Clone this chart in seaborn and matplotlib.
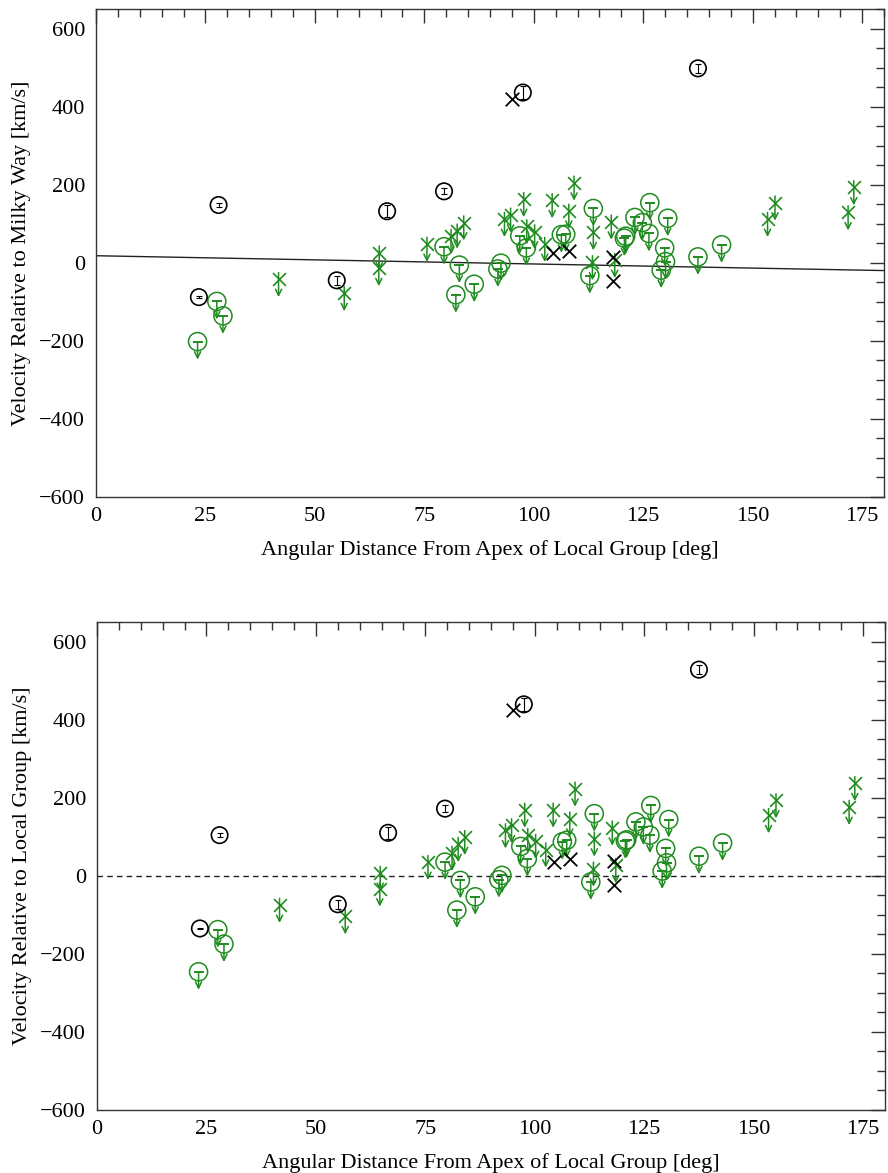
import matplotlib
matplotlib.use('Agg')
import matplotlib.pyplot as plt
import seaborn as sns
import pandas as pd
from matplotlib.ticker import MultipleLocator

# ---------------- data ----------------
# detections (black open circles with error bars)
det_angle = [23.5, 28.0, 55.0, 66.5, 79.5, 97.5, 137.5]
det_v_mw = [-88, 148, -45, 132, 183, 436, 498]
det_v_lg = [-135, 104, -73, 110, 172, 439, 528]
det_err = [2, 5, 12, 16, 8, 16, 12]

# black crosses
cross_angle = [95.0, 104.5, 108.0, 118.0, 118.0]
cross_v_mw = [420, 25, 29, 14, -46]
cross_v_lg = [424, 35, 44, 38, -24]

# upper limits, green circles
circ_angle = [23.2, 27.6, 29.0, 79.5, 82.2, 83.0, 86.4, 91.8, 92.5, 96.8, 98.3,
              106.3, 107.3, 112.8, 113.6, 120.7, 121.0, 123.1, 124.8, 126.3,
              126.5, 129.1, 129.9, 130.1, 130.6, 137.5, 142.9]
circ_v_mw = [-202, -99, -136, 41, -82, -6, -55, -16, -1, 69, 38,
             72, 73, -33, 139, 63, 68, 116, 103, 75,
             154, -19, 38, 3, 114, 15, 46]
circ_v_lg = [-246, -138, -175, 35, -88, -12, -54, -10, 1, 75, 44,
             87, 91, -16, 159, 89, 92, 138, 125, 104,
             180, 12, 70, 33, 144, 50, 84]

# upper limits, green asterisks
star_angle = [41.7, 56.7, 64.7, 64.6, 75.6, 81.1, 82.5, 84.0, 93.3, 94.7, 97.7,
              98.4, 100.2, 102.5, 104.2, 108.0, 109.2, 113.6, 113.4, 117.7,
              118.5, 153.4, 155.1, 171.8, 173.1]
star_v_mw = [-42, -78, 26, -14, 48, 68, 82, 103, 112, 123, 163,
             93, 80, 48, 160, 133, 205, 78, 1, 105,
             7, 112, 154, 129, 193]
star_v_lg = [-75, -104, 7, -33, 35, 58, 81, 99, 116, 129, 169,
             104, 89, 67, 169, 146, 223, 95, 18, 123,
             27, 155, 193, 176, 237]

# reference line in top panel
line_angle = [0, 180]
line_v_mw = [18, -20]

x_label = "Angular Distance From Apex of Local Group [deg]"
y_labels = ["Velocity Relative to Milky Way [km/s]",
            "Velocity Relative to Local Group [km/s]"]

# ---------------- style ----------------
sns.set_style("white")
plt.rcParams['font.family'] = ['Liberation Serif', 'DejaVu Serif']
plt.rcParams['mathtext.fontset'] = 'stix'
plt.rcParams['text.color'] = 'black'
plt.rcParams['axes.labelcolor'] = 'black'
plt.rcParams['xtick.color'] = 'black'
plt.rcParams['ytick.color'] = 'black'

GREEN = '#1f8c1f'
STEM_DOWN = 46
STEM_UP_STAR = 17
FS = 16

fig = plt.figure(figsize=(8.88, 11.73), dpi=100)
ax1 = fig.add_axes([96 / 888, 1 - 497 / 1173, 788 / 888, 488 / 1173])
ax2 = fig.add_axes([97 / 888, 1 - 1110 / 1173, 788 / 888, 488 / 1173])


def arrow(ax, x, y0, y1, color):
    ax.annotate('', xy=(x, y1), xytext=(x, y0),
                arrowprops=dict(arrowstyle='->', color=color, lw=1.1,
                                shrinkA=0, shrinkB=0, mutation_scale=11))


def panel(ax, dv, cv, ov, sv, ylabel):
    # green circles (upper limits)
    dfc = pd.DataFrame({'a': circ_angle, 'v': ov})
    sns.scatterplot(data=dfc, x='a', y='v', ax=ax, marker='o', s=170,
                    facecolors='none', edgecolors=GREEN, linewidths=1.1,
                    legend=False, zorder=3)
    sns.scatterplot(data=dfc, x='a', y='v', ax=ax, marker='_', s=55,
                    color=GREEN, linewidths=1.4, legend=False, zorder=3)
    for a, v in zip(circ_angle, ov):
        arrow(ax, a, v, v - STEM_DOWN, GREEN)
    # green asterisks (upper limits)
    dfs = pd.DataFrame({'a': star_angle, 'v': sv})
    sns.scatterplot(data=dfs, x='a', y='v', ax=ax, marker='x', s=85,
                    color=GREEN, linewidths=1.2, legend=False, zorder=3)
    for a, v in zip(star_angle, sv):
        arrow(ax, a, v + STEM_UP_STAR, v - STEM_DOWN, GREEN)
    # black detections
    dfd = pd.DataFrame({'a': det_angle, 'v': dv})
    sns.scatterplot(data=dfd, x='a', y='v', ax=ax, marker='o', s=140,
                    facecolors='none', edgecolors='black', linewidths=1.2,
                    legend=False, zorder=4)
    ax.errorbar(det_angle, dv, yerr=det_err, fmt='none', ecolor='black',
                elinewidth=0.8, capsize=2, capthick=0.8, zorder=4)
    # black crosses
    dfx = pd.DataFrame({'a': cross_angle, 'v': cv})
    sns.scatterplot(data=dfx, x='a', y='v', ax=ax, marker='x', s=95,
                    color='black', linewidths=1.3, legend=False, zorder=4)

    ax.set_xlim(0, 180)
    ax.set_ylim(-600, 650)
    ax.xaxis.set_major_locator(MultipleLocator(25))
    ax.xaxis.set_minor_locator(MultipleLocator(5))
    ax.yaxis.set_major_locator(MultipleLocator(200))
    ax.yaxis.set_minor_locator(MultipleLocator(50))
    ax.tick_params(which='both', direction='in', top=True, right=True,
                   color='#333333', width=1.0, labelsize=FS,
                   labelcolor='black')
    ax.tick_params(which='major', length=10)
    ax.tick_params(which='minor', length=6)
    ax.tick_params(axis='x', which='major', pad=7)
    ax.tick_params(axis='y', which='major', pad=8)
    for s in ax.spines.values():
        s.set_color('#333333')
        s.set_linewidth(1.0)
    ax.set_xlabel(x_label, fontsize=FS, labelpad=10, color='black')
    ax.set_ylabel(ylabel, fontsize=FS, labelpad=6, color='black')


panel(ax1, det_v_mw, cross_v_mw, circ_v_mw, star_v_mw, y_labels[0])
sns.lineplot(x=line_angle, y=line_v_mw, ax=ax1, color='#222222', lw=1.0,
             legend=False, zorder=2)

panel(ax2, det_v_lg, cross_v_lg, circ_v_lg, star_v_lg, y_labels[1])
ax2.axhline(0, color='#222222', lw=1.0, ls=(0, (4, 3)), zorder=2)

fig.savefig('out.png', dpi=100)
